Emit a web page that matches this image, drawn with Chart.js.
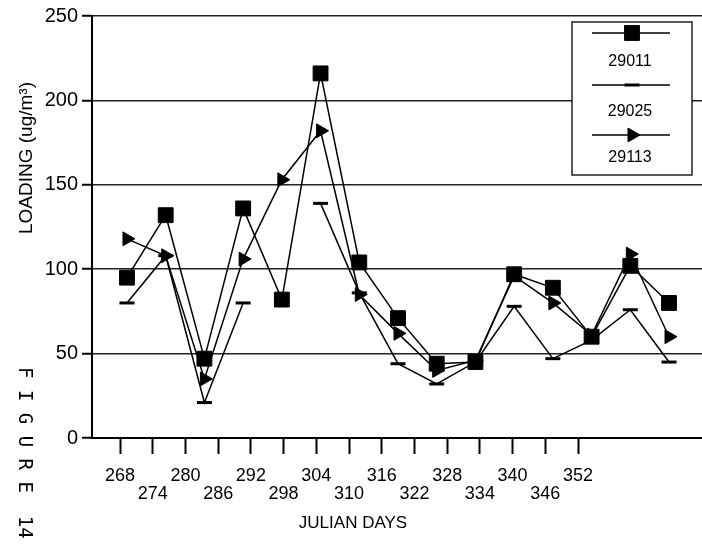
<!DOCTYPE html>
<html>
<head>
<meta charset="utf-8">
<script src="https://cdn.jsdelivr.net/npm/chart.js@4/dist/chart.umd.min.js"></script>
<style>
  html, body { margin: 0; padding: 0; background: #fff; }
  #wrap { width: 702px; height: 544px; }
</style>
</head>
<body>
<div id="wrap"><canvas id="loadChart" width="702" height="544"></canvas></div>
<script>
const days = [268, 274, 280, 286, 292, 298, 304, 310, 316, 322, 328, 334, 340, 346, 352];
const site29011 = [95, 132, 47, 136, 82, 216, 104, 71, 44, 45, 97, 89, 60, 102, 80];
const site29025 = [80, 108, 21, 80, null, 139, 86, 44, 32, 45, 78, 47, 58, 76, 45];
const site29113 = [118, 108, 35, 106, 153, 182, 85, 62, 40, 46, 96, 80, 61, 109, 60];
const yTicks = [0, 50, 100, 150, 200, 250];

const REGULAR = '"Liberation Sans", Arial, sans-serif';

function points(values) {
  return days.map((d, i) => ({ x: d, y: values[i] }));
}

// axis titles and the figure tag on the left margin
const axisText = {
  id: 'axisText',
  afterDraw(chart) {
    const c = chart.ctx;
    c.save();
    c.fillStyle = '#000';
    c.textAlign = 'center';
    c.textBaseline = 'middle';
    c.font = '17px ' + REGULAR;
    c.fillText('JULIAN DAYS', 353, 523);
    c.restore();

    c.save();
    c.fillStyle = '#000';
    c.textAlign = 'center';
    c.textBaseline = 'middle';
    c.translate(27, 158);
    c.rotate(-Math.PI / 2);
    c.font = '19px ' + REGULAR;
    c.fillText('LOADING (ug/m\u00B3)', 0, 0);
    c.restore();

    c.save();
    c.fillStyle = '#000';
    c.textAlign = 'left';
    c.textBaseline = 'middle';
    c.translate(24, 367);
    c.rotate(Math.PI / 2);
    c.font = '19px "DejaVu Sans Mono", monospace';
    c.fillText('F I G U R E  14', 0, 0);
    c.restore();
  }
};

// boxed legend: sample line above each label
const legendBox = {
  id: 'legendBox',
  afterDraw(chart) {
    const c = chart.ctx;
    const left = 572, top = 22, w = 120, h = 153;
    const lineRows = [11, 63, 113];
    const textRows = [40, 90, 136];
    c.save();
    c.fillStyle = '#fff';
    c.fillRect(left, top, w, h);
    c.strokeStyle = '#222';
    c.lineWidth = 1.5;
    c.strokeRect(left, top, w, h);

    chart.data.datasets.forEach((ds, i) => {
      const ly = top + lineRows[i];
      const cx = left + 60;
      c.strokeStyle = '#000';
      c.lineWidth = 1.5;
      c.beginPath();
      c.moveTo(left + 20, ly);
      c.lineTo(left + 98, ly);
      c.stroke();

      c.fillStyle = '#000';
      c.lineWidth = ds.pointBorderWidth || 1;
      Chart.helpers.drawPoint(c, {
        pointStyle: ds.pointStyle,
        rotation: ds.pointRotation || 0,
        radius: ds.pointRadius,
        borderWidth: ds.pointBorderWidth || 1
      }, cx, ly);

      c.fillStyle = '#000';
      c.textAlign = 'center';
      c.textBaseline = 'middle';
      c.font = '16px ' + REGULAR;
      c.fillText(ds.label, cx - 2, top + textRows[i]);
    });
    c.restore();
  }
};

const ctx = document.getElementById('loadChart');
const chart = new Chart(ctx, {
  type: 'line',
  data: {
    datasets: [
      {
        label: '29011',
        data: points(site29011),
        xAxisID: 'xd',
        pointStyle: 'rect',
        pointRadius: 10.5,
        pointBorderWidth: 1,
      },
      {
        label: '29025',
        data: points(site29025),
        xAxisID: 'xd',
        pointStyle: 'line',
        pointRadius: 7.5,
        pointBorderWidth: 3,
      },
      {
        label: '29113',
        data: points(site29113),
        xAxisID: 'xd',
        pointStyle: 'triangle',
        pointRotation: 90,
        pointRadius: 8,
        pointBorderWidth: 1,
      },
    ],
  },
  options: {
    responsive: false,
    animation: false,
    layout: { autoPadding: false, padding: { top: 11, right: 0, bottom: 0, left: 0 } },
    elements: {
      line: { borderColor: '#000', borderWidth: 1.5, tension: 0, fill: false },
      point: { backgroundColor: '#000', borderColor: '#000', hoverRadius: 10 },
    },
    spanGaps: false,
    plugins: {
      legend: { display: false },
      tooltip: { enabled: false },
    },
    scales: {
      xd: {
        type: 'linear',
        axis: 'x',
        position: 'bottom',
        display: false,
        min: 262.58,
        max: 357.11,
      },
      x: {
        type: 'linear',
        position: 'bottom',
        min: 262.86,
        max: 374.74,
        afterBuildTicks: axis => { axis.ticks = days.map(v => ({ value: v })); },
        afterFit: scale => {
          scale.height = 106;
          scale.paddingLeft = 0;
          scale.paddingRight = 0;
        },
        grid: { drawOnChartArea: false, tickLength: 16, tickWidth: 2, tickColor: '#000' },
        border: { color: '#000', width: 2 },
        ticks: {
          autoSkip: false,
          maxRotation: 0,
          padding: 13,
          color: '#000',
          font: { family: REGULAR, size: 18, lineHeight: 1 },
          callback: (v, i) => (i % 2 ? ['', String(v)] : [String(v), '']),
        },
      },
      y: {
        type: 'linear',
        min: 0,
        max: 250,
        afterBuildTicks: axis => { axis.ticks = yTicks.map(v => ({ value: v })); },
        afterFit: scale => { scale.width = 92; },
        grid: { color: '#222', lineWidth: 1.5, tickLength: 10, tickWidth: 2, tickColor: '#000' },
        border: { color: '#000', width: 2 },
        ticks: {
          padding: 4,
          color: '#000',
          font: { family: REGULAR, size: 20 },
        },
      },
    },
  },
  plugins: [axisText, legendBox],
});
</script>
</body>
</html>
